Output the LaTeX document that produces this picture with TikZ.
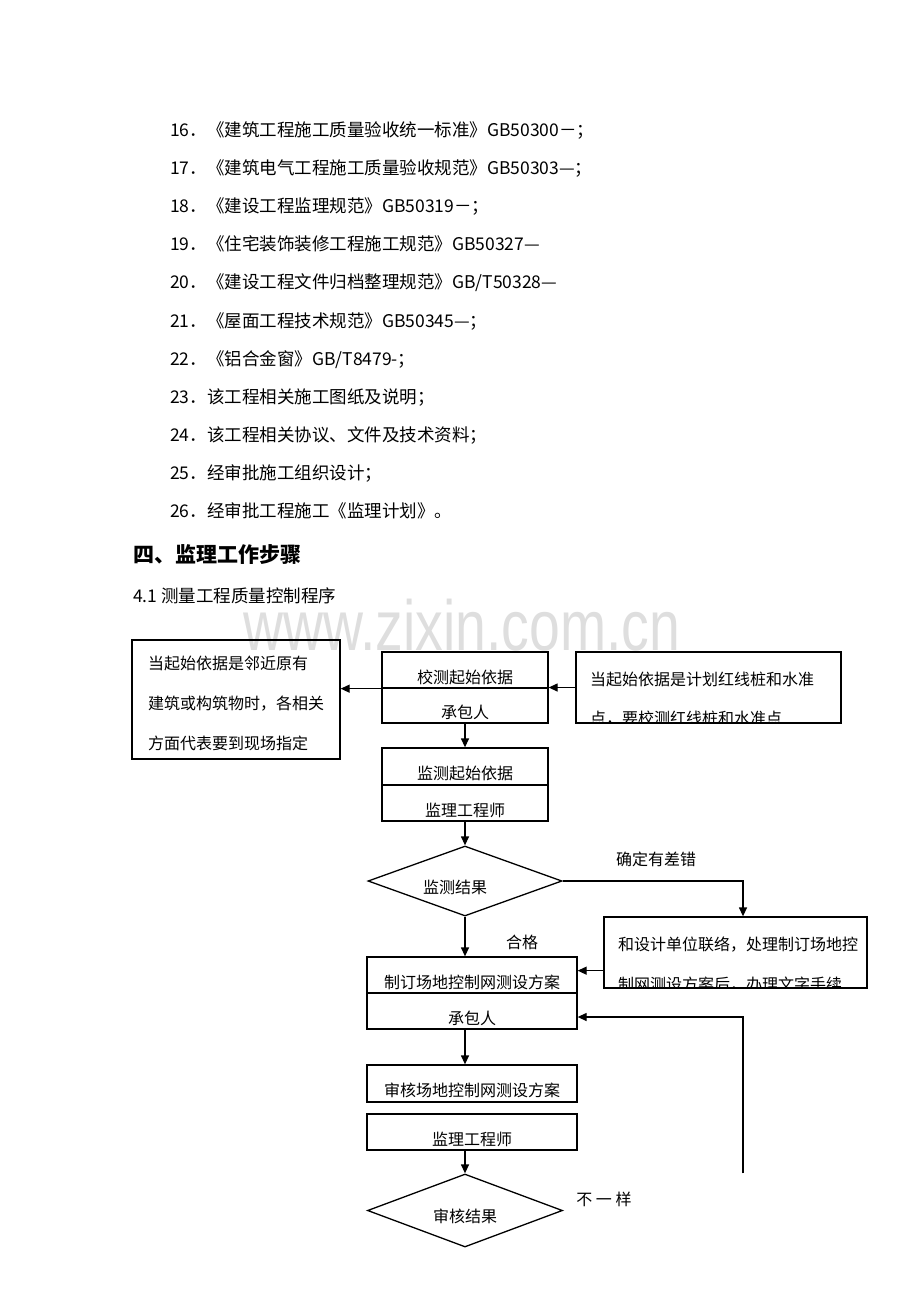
\documentclass[tikz,border=0pt]{standalone}
\usepackage{fontspec}
\newfontfamily\cjk{Noto Sans CJK SC}
\newfontfamily\wmfont{Liberation Sans}
\usetikzlibrary{shapes.geometric,arrows.meta}
\tikzset{%
  % Specifications for style of nodes:
    base/.style = {rectangle, draw=black, line width=1.3pt, inner sep=0pt,
                   text height=26pt, text depth=0pt,
                   font=\cjk\fontsize{16}{16}\selectfont},
    narrow/.style = {base, minimum width=166pt},
    wide/.style = {base, minimum width=210pt},
    note/.style = {base, align=left, text height=100pt, text depth=0pt,
                   font=\cjk\fontsize{16}{40}\selectfont},
    decision/.style = {diamond, aspect=2.77, draw=black, line width=1.3pt,
                   inner sep=0pt, text height=24pt, text depth=0pt,
                   font=\cjk\fontsize{16}{16}\selectfont},
    line/.style = {anchor=west, inner sep=0pt, text height=12.2pt, text depth=0pt,
                   font=\cjk\fontsize{16}{16}\selectfont},
    tag/.style = {line, anchor=center},
    item/.style = {line, text height=13.3pt, font=\cjk\fontsize{17.5}{20}\selectfont},
    flow/.style = {->, line width=1.3pt},
    >={Triangle[length=9pt,width=8pt]}
}

\begin{document}
\begin{tikzpicture}[x=1pt,y=-1pt]
\useasboundingbox (0,0) rectangle (920,1302);

% watermark
\node[anchor=base west, inner sep=0pt, text=black!13,
      font=\wmfont\fontsize{71}{71}\selectfont] (watermark) at (243,650)
      {\scalebox{0.78}[1]{www.zixin.com.cn}};

% list of standards
\node[item] (item16) at (170,130) {16．《建筑工程施工质量验收统一标准》GB50300－；};
\node[item] (item17) at (170,168) {17．《建筑电气工程施工质量验收规范》GB50303—；};
\node[item] (item18) at (170,206) {18．《建设工程监理规范》GB50319－；};
\node[item] (item19) at (170,244) {19．《住宅装饰装修工程施工规范》GB50327—};
\node[item] (item20) at (170,282) {20．《建设工程文件归档整理规范》GB/T50328—};
\node[item] (item21) at (170,320.5) {21．《屋面工程技术规范》GB50345—；};
\node[item] (item22) at (170,358.5) {22．《铝合金窗》GB/T8479-；};
\node[item] (item23) at (170,396.5) {23．该工程相关施工图纸及说明；};
\node[item] (item24) at (170,434.5) {24．该工程相关协议、文件及技术资料；};
\node[item] (item25) at (170,473) {25．经审批施工组织设计；};
\node[item] (item26) at (170,511) {26．经审批工程施工《监理计划》。};

\node[line, text height=16pt, font=\cjk\bfseries\fontsize{21}{21}\selectfont]
      (heading) at (133,554) {四、监理工作步骤};
\node[item] (subhead) at (133,596) {4.1 测量工程质量控制程序};

% boxes
\node[note, minimum width=208pt, minimum height=119pt] (leftnote) at (236,699.5)
      {当起始依据是邻近原有\\建筑或构筑物时，各相关\\方面代表要到现场指定};
\node[base, minimum width=265pt, minimum height=71pt] (basisnote) at (708.5,687.5) {};
\begin{scope}
\clip (basisnote.south west) rectangle (basisnote.north east);
\node[line] (basis1) at (590,679) {当起始依据是计划红线桩和水准};
\node[line] (basis2) at (590,718) {点，要校测红线桩和水准点};
\end{scope}

\node[narrow, minimum height=36pt] (check) at (465,670) {校测起始依据};
\node[narrow, minimum height=35pt] (checkby) at (465,705.5) {承包人};
\node[narrow, minimum height=37pt] (verify) at (465,766.5) {监测起始依据};
\node[narrow, minimum height=36pt] (verifyby) at (465,803) {监理工程师};

\node[decision, minimum width=194pt, minimum height=70pt] (result) at (465,881)
      {监测结果\hspace*{20pt}};

\node[base, minimum width=263pt, minimum height=71pt] (liaise) at (735.5,952.5) {};
\begin{scope}
\clip (liaise.south west) rectangle (liaise.north east);
\node[line] (liaise1) at (618,944) {和设计单位联络，处理制订场地控};
\node[line] (liaise2) at (618,984) {制网测设方案后，办理文字手续};
\end{scope}

\node[wide, minimum height=36pt] (scheme) at (472,975) {制订场地控制网测设方案};
\node[wide, minimum height=36pt] (schemeby) at (472,1011) {承包人};
\node[wide, minimum height=37pt] (audit) at (472,1083.5) {审核场地控制网测设方案};
\node[wide, minimum height=36pt] (auditor) at (472,1132) {监理工程师};

\node[decision, minimum width=195pt, minimum height=73pt] (verdict) at (465,1210.5)
      {审核结果};

% labels
\node[tag] (errlabel) at (656,859) {确定有差错};
\node[tag] (passlabel) at (522,942) {合格};
\node[tag] (difflabel) at (604,1199) {不 一 样};

% connectors
\coordinate (turn) at (743,881);
\coordinate (liaiseout) at ([yshift=18pt]liaise.south west);
\coordinate (feedback) at ([yshift=-6pt]schemeby.east);

\draw[flow] (basisnote.west) -- (basisnote.west -| check.east);
\draw[flow] (check.south west) -- (check.south west -| leftnote.east);
\draw[flow] (checkby) -- (verify);
\draw[flow] (verifyby) -- (result);
\draw[flow] (result.east) -- (turn) -- (turn |- liaise.north);
\draw[flow] (result.south) -- (result.south |- scheme.north);
\draw[flow] (liaiseout) -- (liaiseout -| scheme.east);
\draw[flow] (schemeby.south -| result.south) -- (audit.north -| result.south);
\draw[flow] (auditor.south -| verdict.north) -- (verdict.north);
\draw[flow] (verdict.north -| turn) -- (turn |- feedback) -- (feedback);

\end{tikzpicture}
\end{document}
